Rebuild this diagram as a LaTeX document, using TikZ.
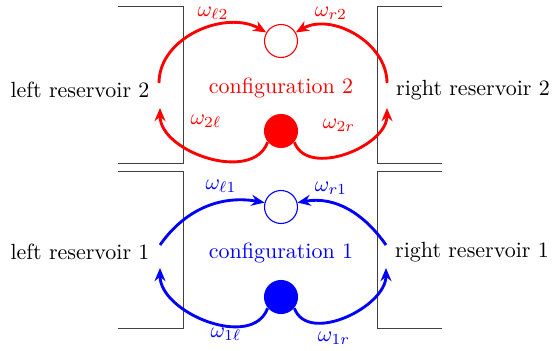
\documentclass[tikz,border=0pt]{standalone}
\usetikzlibrary{arrows.meta}
\begin{document}
\begin{tikzpicture}[x=0.4549pt,y=-0.4549pt,
  wall/.style={draw=black!75,line width=0.45pt},
  rflow/.style={draw=red,line width=1.3pt,-{Stealth[length=6pt,width=5pt,inset=2pt]}},
  bflow/.style={draw=blue,line width=1.3pt,-{Stealth[length=6pt,width=5pt,inset=2pt]}},
  empty/.style={circle,draw,line width=0.5pt,minimum size=15pt,inner sep=0pt},
  full/.style={circle,fill,minimum size=15.5pt,inner sep=0pt},
  lab/.style={inner sep=0pt}]
\useasboundingbox (0,0) rectangle (554,351);
% reservoir walls
\draw[wall] (118,6) -- (183,6) -- (183,163) -- (118,163);
\draw[wall] (118,171) -- (183,171) -- (183,328) -- (118,328);
\draw[wall] (442,6) -- (377,6) -- (377,163) -- (442,163);
\draw[wall] (442,171) -- (377,171) -- (377,328) -- (442,328);
% texts
\node[lab] (lr2) at (80,90) {left reservoir 2};
\node[lab] (rr2) at (473,90) {right reservoir 2};
\node[lab] (lr1) at (80,252) {left reservoir 1};
\node[lab] (rr1) at (472,252) {right reservoir 1};
\node[lab,text=red] (c2) at (281,88) {configuration 2};
\node[lab,text=blue] (c1) at (281,253) {configuration 1};
% sites
\node[empty,draw=red] (e2) at (281,41) {};
\node[full,fill=red] (f2) at (281,131) {};
\node[empty,draw=blue] (e1) at (281,207) {};
\node[full,fill=blue] (f1) at (281,297) {};
% connector free ends
\coordinate (l2a) at (159,83);
\coordinate (l2b) at (160,108);
\coordinate (r2a) at (387,83);
\coordinate (r2b) at (387,108);
\coordinate (l1a) at (160,245);
\coordinate (l1b) at (160,268);
\coordinate (r1a) at (386,245);
\coordinate (r1b) at (386,268);
% red flows
\draw[rflow] (l2a) to[out=90,in=150] (e2.150);
\draw[rflow] (r2a) to[out=90,in=30] (e2.30);
\draw[rflow] (f2.220) to[out=-110,in=-90] (l2b);
\draw[rflow] (f2.-40) to[out=-70,in=-90] (r2b);
% blue flows
\draw[bflow] (l1a) to[out=55,in=170] (e1.165);
\draw[bflow] (r1a) to[out=125,in=10] (e1.15);
\draw[bflow] (f1.220) to[out=-110,in=-90] (l1b);
\draw[bflow] (f1.-40) to[out=-70,in=-90] (r1b);
% rate labels
\node[lab,text=red] (wl2) at (213,13) {$\omega_{\ell 2}$};
\node[lab,text=red] (wr2) at (331,13) {$\omega_{r2}$};
\node[lab,text=red] (w2l) at (206,121) {$\omega_{2\ell}$};
\node[lab,text=red] (w2r) at (339,125) {$\omega_{2r}$};
\node[lab,text=blue] (wl1) at (221,186) {$\omega_{\ell 1}$};
\node[lab,text=blue] (wr1) at (331,188) {$\omega_{r1}$};
\node[lab,text=blue] (w1l) at (226,334) {$\omega_{1\ell}$};
\node[lab,text=blue] (w1r) at (334,338) {$\omega_{1r}$};
\end{tikzpicture}
\end{document}
